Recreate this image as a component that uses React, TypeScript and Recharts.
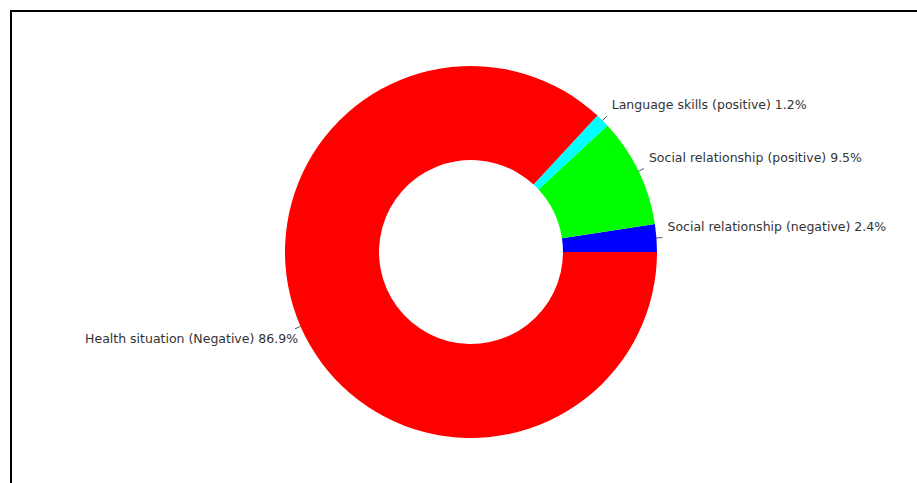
import { PieChart, Pie, Cell } from 'recharts';

const categories = [
  'Social relationship (negative)',
  'Social relationship (positive)',
  'Language skills (positive)',
  'Health situation (Negative)',
];
const shares = [2.4, 9.5, 1.2, 86.9];
const colors = ['#0000ff', '#00ff00', '#00ffff', '#ff0000'];

const data = categories.map((name, i) => ({ name, value: shares[i] }));

const RADIAN = Math.PI / 180;

// label with a short tick touching the corner of the text
function renderLabel(props: any) {
  const { cx, cy, midAngle, outerRadius, index } = props;
  const cos = Math.cos(-midAngle * RADIAN);
  const sin = Math.sin(-midAngle * RADIAN);
  const sx = cx + outerRadius * cos;
  const sy = cy + outerRadius * sin;
  const ex = cx + (outerRadius + 6) * cos;
  const ey = cy + (outerRadius + 6) * sin;
  const right = cos >= 0;
  const tx = right ? ex + 5 : ex + 3;
  const ty = right ? ey - 7 : ey + 14;
  return (
    <g key={`lbl-${index}`}>
      <line x1={sx} y1={sy} x2={ex} y2={ey} stroke="#555" strokeWidth={1} />
      <text
        x={tx}
        y={ty}
        textAnchor={right ? 'start' : 'end'}
        fill="#333"
        fontSize={12.5}
        fontFamily="DejaVu Sans, sans-serif"
      >
        {`${categories[index]} ${shares[index]}%`}
      </text>
    </g>
  );
}

export default function App() {
  return (
    <div style={{ position: 'absolute', left: 0, top: 0, width: 917, height: 483, background: '#fff', overflow: 'hidden' }}>
      <div
        style={{
          position: 'absolute',
          left: 10,
          top: 10,
          width: 920,
          height: 480,
          borderTop: '2px solid #000',
          borderLeft: '2px solid #000',
        }}
      />
      <div style={{ position: 'absolute', left: 0, top: 0 }}>
        <PieChart width={917} height={483} margin={{ top: 0, right: 0, bottom: 0, left: 0 }}>
          <Pie
            data={data}
            dataKey="value"
            nameKey="name"
            cx={471}
            cy={252}
            innerRadius={92}
            outerRadius={186}
            startAngle={0}
            endAngle={360}
            stroke="none"
            label={renderLabel}
            labelLine={false}
            isAnimationActive={false}
          >
            {data.map((d, i) => (
              <Cell key={d.name} fill={colors[i]} />
            ))}
          </Pie>
        </PieChart>
      </div>
    </div>
  );
}
